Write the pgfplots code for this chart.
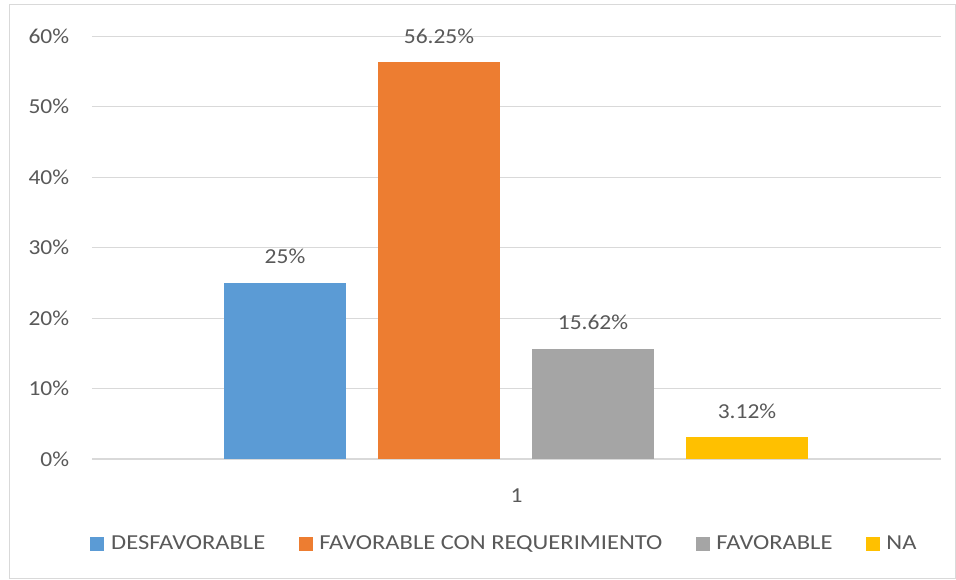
\documentclass[border=0pt]{standalone}
\usepackage{pgfplots}
\pgfplotsset{compat=1.18}
\usepackage{fontspec}
\setmainfont{Carlito}[FakeStretch=1.1]
\newfontfamily\legfont{Carlito}[FakeStretch=1.15]
\definecolor{cblue}{HTML}{5B9BD5}
\definecolor{corange}{HTML}{ED7D31}
\definecolor{cgray}{HTML}{A5A5A5}
\definecolor{cyellow}{HTML}{FFC000}
\definecolor{ctext}{HTML}{595959}
\definecolor{cgrid}{HTML}{D9D9D9}
\begin{document}
\begin{tikzpicture}[x=0.75pt,y=0.75pt]
\fill[white] (-92,-120) rectangle (864,459);
\draw[cgrid, line width=0.75pt] (-82,-119) rectangle (863,454);
\begin{axis}[
  at={(0,0)}, anchor=origin,
  scale only axis,
  width=636.75pt, height=317.25pt,
  xmin=0, xmax=849, ymin=0, ymax=60,
  axis line style={draw=none},
  ytick={0,10,...,60},
  yticklabel={\pgfmathprintnumber{\tick}\%},
  ymajorgrids,
  grid style={cgrid, line width=0.75pt},
  xtick={424.5}, xticklabels={1},
  tick style={draw=none},
  every tick label/.style={font=\fontsize{16}{19}\selectfont, text=ctext},
  yticklabel style={anchor=east, inner sep=0pt, xshift=-17pt},
  xticklabel style={anchor=north, inner sep=0pt, yshift=-18pt},
  /pgf/number format/assume math mode=true,
  bar width=122, ybar, bar shift=0pt,
  nodes near coords={\pgfmathprintnumber[fixed,precision=2]{\pgfplotspointmeta}\%},
  every node near coord/.style={anchor=base, yshift=14.25pt, inner sep=0pt, font=\fontsize{16}{19}\selectfont, text=ctext},
  legend style={at={(0.4847,-0.201)}, anchor=center, draw=none, fill=none,
    inner sep=0pt,
    legend columns=4, font=\legfont\fontsize{16}{19}\selectfont, text=ctext,
    nodes={inner sep=0pt},
    /tikz/every odd column/.append style={column sep=5pt},
    /tikz/every even column/.append style={column sep=25pt},
    legend cell align=left},
  legend image code/.code={\fill[#1] (0pt,-5pt) rectangle (10.5pt,5.25pt);},
  clip=false,
]
\draw[cgrid, line width=0.9pt] (axis cs:0,0) -- (axis cs:849,0);
\addplot[fill=cblue, draw=none] coordinates {(193,25)};
\addlegendentry{DESFAVORABLE}
\addplot[fill=corange, draw=none] coordinates {(347,56.25)};
\addlegendentry{FAVORABLE CON REQUERIMIENTO}
\addplot[fill=cgray, draw=none] coordinates {(501,15.62)};
\addlegendentry{FAVORABLE}
\addplot[fill=cyellow, draw=none] coordinates {(655,3.12)};
\addlegendentry{NA}
\end{axis}
\end{tikzpicture}
\end{document}
